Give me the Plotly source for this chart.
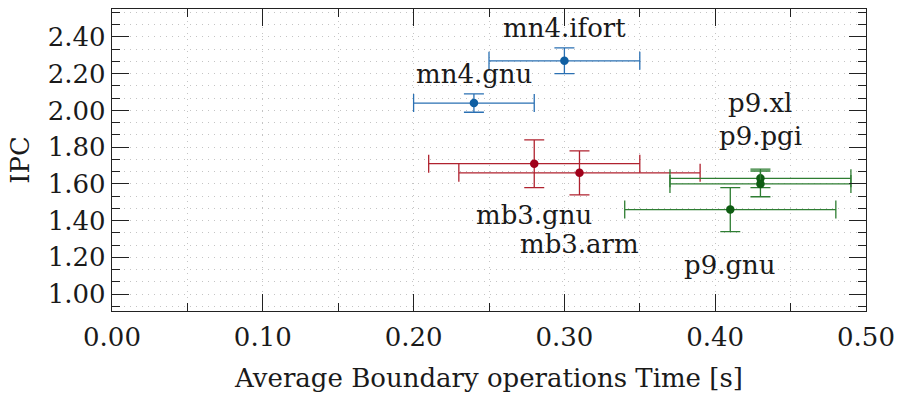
import plotly.graph_objects as go

# Measured configurations: average boundary-operation time vs. IPC
names = ["mn4.gnu", "mn4.ifort", "mb3.gnu", "mb3.arm", "p9.gnu", "p9.xl", "p9.pgi"]
time_s = [0.24, 0.30, 0.28, 0.31, 0.41, 0.43, 0.43]
time_err = [0.04, 0.05, 0.07, 0.08, 0.07, 0.06, 0.06]
ipc = [2.04, 2.27, 1.71, 1.66, 1.46, 1.63, 1.60]
ipc_err = [0.05, 0.07, 0.13, 0.12, 0.12, 0.05, 0.07]

# Styling per machine family
family = ["mn4", "mn4", "mb3", "mb3", "p9", "p9", "p9"]
line_colors = {"mn4": "#2a70b3", "mb3": "#b0222f", "p9": "#2e7d32"}
mark_colors = {"mn4": "#0f5fa3", "mb3": "#a0001a", "p9": "#0e5c12"}
# vertical offset (px) of each name label relative to its point
label_shift = [29, 33, -51, -71, -55, 75, 48]

FONT = "DejaVu Serif"
FS = 26
TXT = "#1a1a1a"

fig = go.Figure()
for i, n in enumerate(names):
    f = family[i]
    fig.add_trace(go.Scatter(
        x=[time_s[i]], y=[ipc[i]], mode="markers", name=n,
        marker=dict(size=8.5, color=mark_colors[f]),
        error_x=dict(type="data", array=[time_err[i]], color=line_colors[f],
                     thickness=1.3, width=9),
        error_y=dict(type="data", array=[ipc_err[i]], color=line_colors[f],
                     thickness=1.3, width=10),
        showlegend=False,
    ))
    fig.add_annotation(x=time_s[i], y=ipc[i], text=n, showarrow=False,
                       yshift=label_shift[i], xanchor="center", yanchor="middle",
                       font=dict(family=FONT, size=FS, color=TXT))

grid = dict(showgrid=True, gridcolor="#c4c4c4", gridwidth=1, griddash="1px,5px")

fig.update_xaxes(
    range=[0, 0.5], tickvals=[0, 0.1, 0.2, 0.3, 0.4, 0.5],
    ticktext=["0.00", "0.10", "0.20", "0.30", "0.40", "0.50"],
    ticks="inside", ticklen=17, tickwidth=1.2, tickcolor="#222222",
    showline=True, linecolor="#222222", linewidth=1.3, mirror="ticks",
    zeroline=False, ticklabelstandoff=3,
    minor=dict(dtick=0.05, tick0=0, ticks="inside", ticklen=8, tickwidth=1.2,
               tickcolor="#222222", **grid),
    title=dict(text="Average Boundary operations Time [s]", standoff=17,
               font=dict(family=FONT, size=FS, color=TXT)),
    tickfont=dict(family=FONT, size=FS, color=TXT),
    **grid,
)
fig.update_yaxes(
    range=[0.908, 2.552], tickvals=[1.0, 1.2, 1.4, 1.6, 1.8, 2.0, 2.2, 2.4],
    ticktext=["1.00", "1.20", "1.40", "1.60", "1.80", "2.00", "2.20", "2.40"],
    ticks="inside", ticklen=17, tickwidth=1.2, tickcolor="#222222",
    showline=True, linecolor="#222222", linewidth=1.3, mirror="ticks",
    zeroline=False, ticklabelstandoff=0,
    minor=dict(dtick=0.2 / 3, tick0=1.0, ticks="inside", ticklen=8, tickwidth=1.2,
               tickcolor="#222222", **grid),
    title=dict(text="IPC", standoff=10,
               font=dict(family=FONT, size=FS, color=TXT)),
    tickfont=dict(family=FONT, size=FS, color=TXT),
    **grid,
)

fig.update_layout(
    width=903, height=400,
    margin=dict(l=112, r=29, t=8, b=89),
    paper_bgcolor="white", plot_bgcolor="white",
)

fig.write_html("out.html")
